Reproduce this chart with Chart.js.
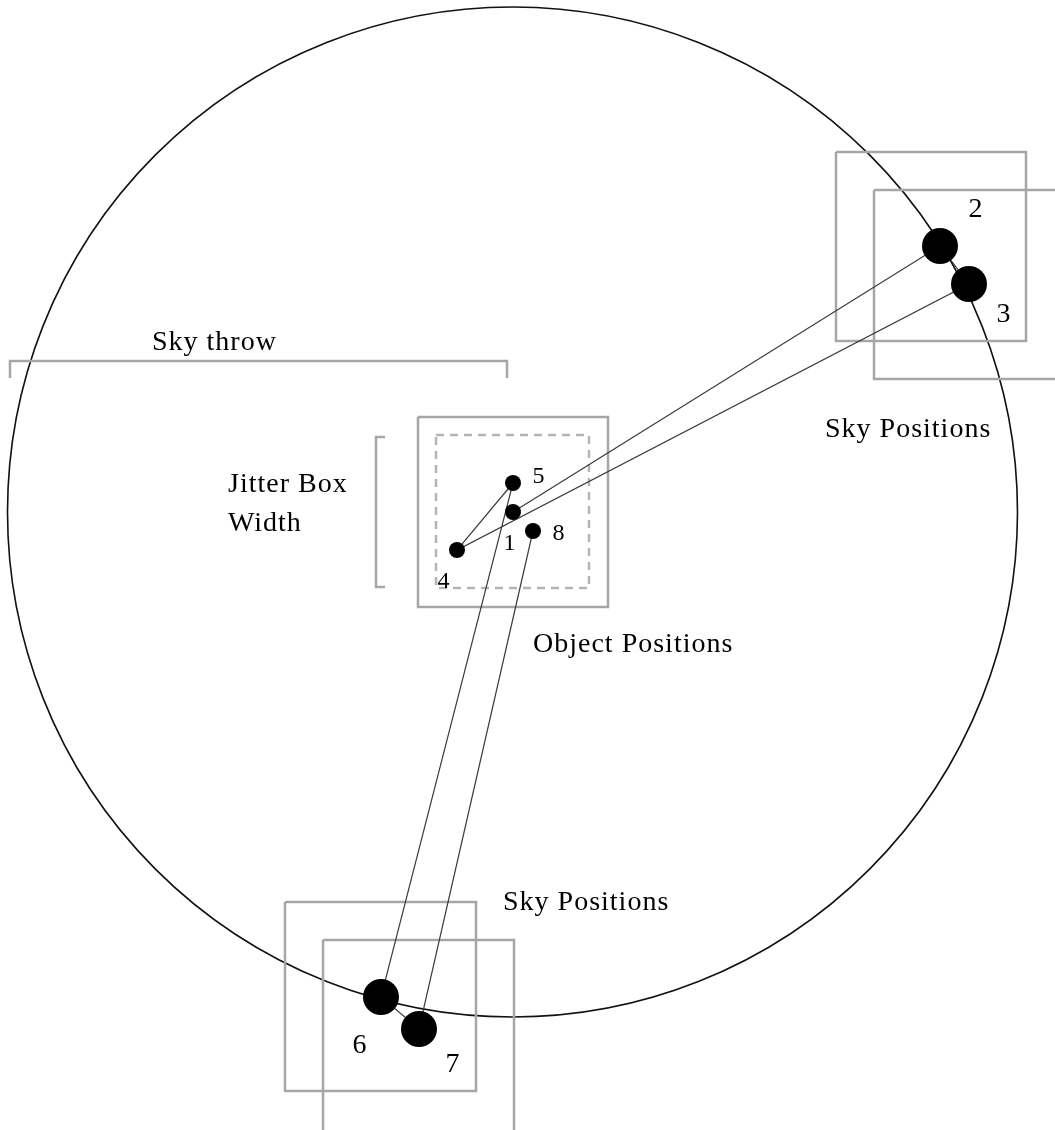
<!DOCTYPE html>
<html>
<head>
<meta charset="utf-8">
<script src="https://cdn.jsdelivr.net/npm/chart.js@4"></script>
<style>
  html, body { margin: 0; padding: 0; background: #fff; overflow: hidden; }
  #wrap { width: 1055px; height: 1130px; position: relative; }
</style>
</head>
<body>
<div id="wrap"><canvas id="myChart"></canvas></div>
<script>
// dither positions, in the order the telescope visits them
var posNames = ['1', '2', '3', '4', '5', '6', '7', '8'];
var posKind = ['object', 'sky', 'sky', 'object', 'object', 'sky', 'sky', 'object'];
var posX = [513, 940, 969, 457, 513, 381, 419, 533];
var posY = [512, 246, 284, 550, 483, 997, 1029, 531];

// sky throw circle round position 1
var throwCentre = [512.5, 512];
var throwRadius = 505;

// boxes: [left, top, right, bottom]
var solidBoxes = [
  [418, 417, 608, 607],
  [836, 152, 1026, 341],
  [874, 190, 1090, 379],
  [285, 902, 476, 1091],
  [323, 940, 514, 1160]
];
var jitterBox = [436, 435, 589, 588];

// brackets
var throwBracket = [[10, 378], [10, 361], [507, 361], [507, 378]];
var jitterBracket = [[385, 437], [376, 437], [376, 587], [385, 587]];

// text
var captions = ['Sky throw', 'Jitter Box', 'Width', 'Object Positions', 'Sky Positions', 'Sky Positions'];
var captionX = [152, 228, 228, 533, 825, 503];
var captionY = [350, 492, 531, 652, 437, 910];
var numberX = [510, 976, 1004, 444, 539, 360, 453, 559];
var numberY = [550, 217, 322, 588, 483, 1053, 1072, 540];

function boxPoints(b) {
  return [{x: b[0], y: b[1]}, {x: b[2], y: b[1]}, {x: b[2], y: b[3]}, {x: b[0], y: b[3]}, {x: b[0], y: b[1]}];
}
function toPoints(arr) {
  return arr.map(function (p) { return {x: p[0], y: p[1]}; });
}

var datasets = [];

// the dots themselves, on top
datasets.push({
  type: 'scatter',
  data: posX.map(function (x, i) { return {x: x, y: posY[i]}; }),
  pointRadius: posKind.map(function (k) { return k == 'sky' ? 18 : 8; }),
  pointBackgroundColor: '#000',
  pointBorderColor: '#000',
  pointBorderWidth: 0,
  showLine: false,
  order: 0
});

// path joining them in visit order
datasets.push({
  type: 'line',
  data: posX.map(function (x, i) { return {x: x, y: posY[i]}; }),
  borderColor: '#3a3a3a',
  borderWidth: 1.2,
  pointRadius: 0,
  tension: 0,
  fill: false,
  order: 1
});

solidBoxes.forEach(function (b) {
  datasets.push({
    type: 'line', data: boxPoints(b), borderColor: '#a6a6a6', borderWidth: 2.5,
    pointRadius: 0, fill: false, tension: 0, order: 2
  });
});
datasets.push({
  type: 'line', data: boxPoints(jitterBox), borderColor: '#b4b4b4', borderWidth: 2.5,
  borderDash: [8, 6], pointRadius: 0, fill: false, tension: 0, order: 2
});
[throwBracket, jitterBracket].forEach(function (b) {
  datasets.push({
    type: 'line', data: toPoints(b), borderColor: '#a6a6a6', borderWidth: 2.5,
    pointRadius: 0, fill: false, tension: 0, order: 2
  });
});

// the big circle
datasets.push({
  type: 'scatter',
  data: [{x: throwCentre[0], y: throwCentre[1]}],
  pointRadius: throwRadius,
  pointStyle: 'circle',
  pointBackgroundColor: 'rgba(0,0,0,0)',
  pointBorderColor: '#111',
  pointBorderWidth: 1.6,
  clip: false,
  order: 3
});

var textPlugin = {
  id: 'diagramText',
  afterDatasetsDraw: function (chart) {
    var ctx = chart.ctx;
    var xs = chart.scales.x, ys = chart.scales.y;
    ctx.save();
    ctx.fillStyle = '#000';
    ctx.textBaseline = 'alphabetic';
    ctx.textAlign = 'left';
    ctx.font = '28px "Liberation Serif"';
    ctx.letterSpacing = '1px';
    captions.forEach(function (t, i) {
      ctx.fillText(t, xs.getPixelForValue(captionX[i]), ys.getPixelForValue(captionY[i]));
    });
    ctx.textAlign = 'center';
    posNames.forEach(function (t, i) {
      ctx.font = (posKind[i] == 'sky' ? '28px' : '24px') + ' "Liberation Serif"';
      ctx.fillText(t, xs.getPixelForValue(numberX[i]), ys.getPixelForValue(numberY[i]));
    });
    ctx.restore();
  }
};

var ctx1 = document.getElementById('myChart').getContext('2d');
var mychart1 = new Chart(ctx1, {
  data: {datasets: datasets},
  options: {
    responsive: true,
    maintainAspectRatio: false,
    animation: false,
    events: [],
    layout: {padding: 0, autoPadding: false},
    plugins: {legend: {display: false}, tooltip: {enabled: false}, title: {display: false}},
    scales: {
      x: {type: 'linear', min: 0, max: 1055, display: false},
      y: {type: 'linear', min: 0, max: 1130, reverse: true, display: false}
    }
  },
  plugins: [textPlugin]
});
</script>
</body>
</html>
